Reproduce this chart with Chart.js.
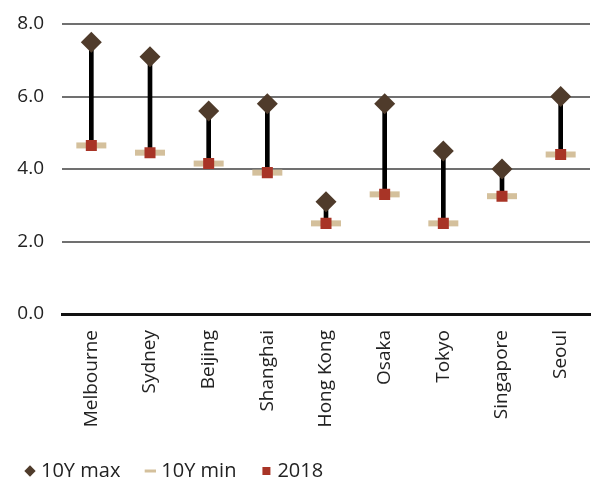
<!DOCTYPE html>
<html>
<head>
<meta charset="utf-8">
<script src="https://cdn.jsdelivr.net/npm/chart.js@4"></script>
<style>
  html, body { margin: 0; padding: 0; background: #fff; }
  #wrap { width: 611px; height: 479px; }
</style>
</head>
<body>
<div id="wrap"><canvas id="grafico"></canvas></div>
<script>
const ciudades = ["Melbourne", "Sydney", "Beijing", "Shanghai", "Hong Kong", "Osaka", "Tokyo", "Singapore", "Seoul"];
const max10Y = [7.5, 7.1, 5.6, 5.8, 3.1, 5.8, 4.5, 4.0, 6.0];
const min10Y = [4.65, 4.45, 4.15, 3.9, 2.5, 3.3, 2.5, 3.25, 4.4];
const valores2018 = [4.65, 4.45, 4.15, 3.9, 2.5, 3.3, 2.5, 3.25, 4.4];
const ticksY = [0, 2, 4, 6, 8];

const COL_MAX = '#4f3b2b';
const COL_MIN = '#d4c09c';
const COL_2018 = '#a83426';
const FUENTE = "'Open Sans', sans-serif";

// rango min-max como barra flotante fina
const rangos = ciudades.map((c, i) => [min10Y[i], max10Y[i]]);

new Chart(document.getElementById('grafico'), {
    type: 'bar',
    data: {
        labels: ciudades,
        datasets: [
            { type: 'line', label: '10Y max', data: max10Y, showLine: false, order: 1,
              pointStyle: 'rectRot', pointRadius: 10.5, pointHoverRadius: 10.5,
              backgroundColor: COL_MAX, borderColor: COL_MAX, borderWidth: 0 },
            { type: 'line', label: '2018', data: valores2018, showLine: false, order: 2,
              pointStyle: 'rect', pointRadius: 7.8, pointHoverRadius: 7.8,
              backgroundColor: COL_2018, borderColor: COL_2018, borderWidth: 0 },
            { type: 'line', label: '10Y min', data: min10Y, showLine: false, order: 3,
              pointStyle: 'line', pointRadius: 15, pointHoverRadius: 15,
              backgroundColor: COL_MIN, borderColor: COL_MIN, pointBorderWidth: 6, borderWidth: 6 },
            { type: 'bar', label: 'rango', data: rangos, order: 4,
              backgroundColor: '#000', barThickness: 4, borderSkipped: false }
        ]
    },
    options: {
        responsive: true,
        maintainAspectRatio: false,
        animation: false,
        layout: { padding: { left: 0, right: 0, top: 24, bottom: -12 } },
        plugins: {
            tooltip: { enabled: false },
            legend: {
                position: 'bottom',
                align: 'start',
                labels: {
                    usePointStyle: true,
                    boxHeight: 8,
                    boxWidth: 2,
                    padding: 29,
                    color: '#222',
                    font: { family: FUENTE, size: 20 },
                    generateLabels: () => [
                        { text: '10Y max', pointStyle: 'rectRot', fillStyle: COL_MAX, strokeStyle: COL_MAX, lineWidth: 0, fontColor: '#222' },
                        { text: '10Y min', pointStyle: 'line', fillStyle: COL_MIN, strokeStyle: COL_MIN, lineWidth: 3, fontColor: '#222' },
                        { text: '2018', pointStyle: 'rect', fillStyle: COL_2018, strokeStyle: COL_2018, lineWidth: 0, fontColor: '#222' }
                    ]
                }
            }
        },
        scales: {
            x: {
                offset: true,
                grid: { display: false },
                border: { color: '#111', width: 3, z: 1 },
                afterFit: s => { s.height = 118; },
                ticks: {
                    minRotation: 90, maxRotation: 90, padding: 8,
                    color: '#222', font: { family: FUENTE, size: 19 }
                }
            },
            y: {
                min: 0, max: 8,
                afterBuildTicks: ax => { ax.ticks = ticksY.map(v => ({ value: v })); },
                afterFit: s => { s.width = 62; s.paddingTop = 0; s.paddingBottom = 0; },
                grid: { color: '#707070', lineWidth: 2, drawTicks: false },
                border: { display: false },
                ticks: {
                    padding: 18, color: '#222', font: { family: FUENTE, size: 19 },
                    callback: v => v.toFixed(1)
                }
            }
        }
    }
});
</script>
</body>
</html>
